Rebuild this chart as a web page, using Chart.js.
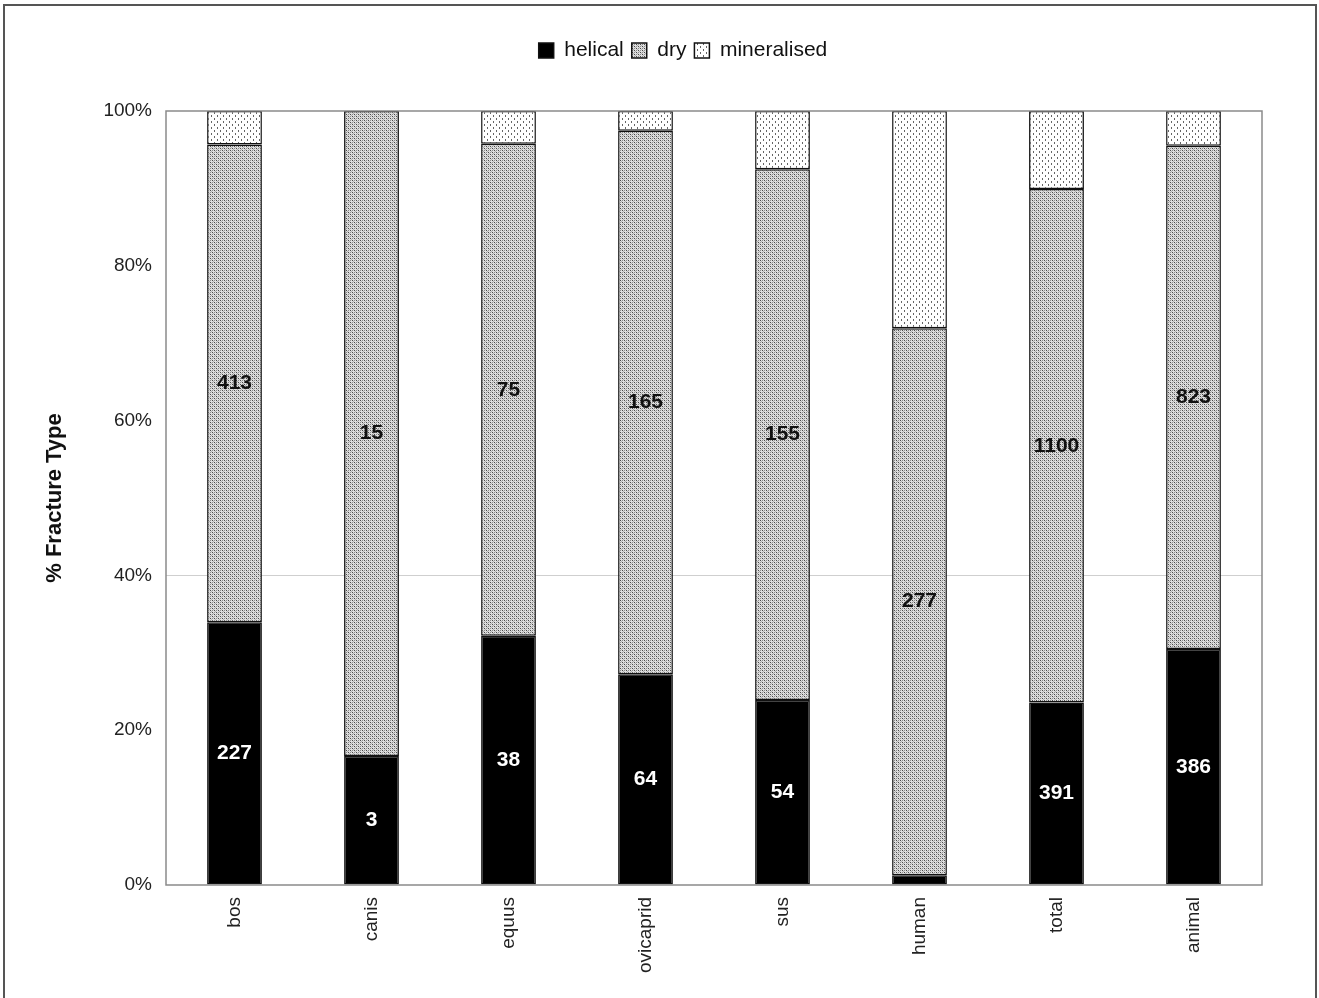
<!DOCTYPE html>
<html>
<head>
<meta charset="utf-8">
<script src="https://cdn.jsdelivr.net/npm/chart.js@4/dist/chart.umd.min.js"></script>
<style>
  html, body { margin: 0; padding: 0; background: #fff; }
  #wrap { width: 1319px; height: 998px; }
</style>
</head>
<body>
<div id="wrap"><canvas id="fractures" width="1319" height="998"></canvas></div>
<script>
// fragment counts per taxon, by fracture type
const categories = ['bos', 'canis', 'equus', 'ovicaprid', 'sus', 'human', 'total', 'animal'];
const helical = [227, 3, 38, 64, 54, 5, 391, 386];
const dry = [413, 15, 75, 165, 155, 277, 1100, 823];
const mineralised = [29, 0, 5, 6, 17, 110, 167, 57];
const yTicks = [0, 20, 40, 60, 80, 100];

const totals = categories.map((_, i) => helical[i] + dry[i] + mineralised[i]);
const pct = arr => arr.map((v, i) => v / totals[i] * 100);

function makePattern(size, draw) {
  const c = document.createElement('canvas');
  c.width = size; c.height = size;
  const g = c.getContext('2d');
  draw(g);
  return g.createPattern(c, 'repeat');
}

// dense grey mesh for dry breaks
const dryFill = makePattern(4, g => {
  g.fillStyle = '#dedede'; g.fillRect(0, 0, 4, 4);
  g.fillStyle = '#4a4a4a'; g.fillRect(0, 0, 1, 1); g.fillRect(2, 2, 1, 1);
  g.fillStyle = '#8c8c8c'; g.fillRect(2, 0, 1, 1); g.fillRect(0, 2, 1, 1);
  g.fillStyle = '#b0b0b0'; g.fillRect(1, 1, 1, 1); g.fillRect(3, 3, 1, 1);
});

// sparse dots for mineralised breaks
const minFill = makePattern(6, g => {
  g.fillStyle = '#fff'; g.fillRect(0, 0, 6, 6);
  g.fillStyle = '#666'; g.fillRect(1, 1, 1, 2); g.fillRect(4, 4, 1, 2);
});

// extra room under the legend row, and nudge the row to the right
const legendGap = {
  id: 'legendGap',
  beforeInit(chart) {
    const lg = chart.legend;
    if (!lg) return;
    const fit = lg.fit;
    lg.fit = function () {
      fit.call(this);
      this.height += 40;
    };
  },
  afterLayout(chart) {
    const lg = chart.legend;
    if (!lg) return;
    lg.left += 52;
    lg.right += 52;
  }
};

const frame = {
  id: 'frame',
  beforeDraw(chart) {
    const { ctx } = chart;
    ctx.save();
    ctx.fillStyle = '#fff';
    ctx.fillRect(0, 0, chart.width, chart.height);
    ctx.restore();
  },
  afterDraw(chart) {
    const { ctx, chartArea: a } = chart;
    ctx.save();
    ctx.strokeStyle = '#8a8a8a';
    ctx.lineWidth = 1.5;
    ctx.strokeRect(a.left, a.top, a.right - a.left, a.bottom - a.top);
    ctx.strokeStyle = '#555';
    ctx.lineWidth = 2;
    ctx.strokeRect(4, 5, 1312, 1010);
    ctx.restore();
  }
};

const countLabels = {
  id: 'countLabels',
  afterDatasetsDraw(chart) {
    const { ctx } = chart;
    ctx.save();
    ctx.font = 'bold 21px "Liberation Sans", Arial, sans-serif';
    ctx.textAlign = 'center';
    ctx.textBaseline = 'middle';
    [[0, helical, '#fff'], [1, dry, '#111']].forEach(([di, counts, color]) => {
      chart.getDatasetMeta(di).data.forEach((bar, i) => {
        const { x, y, base } = bar.getProps(['x', 'y', 'base'], true);
        if (Math.abs(base - y) < 25) return;
        ctx.fillStyle = color;
        ctx.fillText(String(counts[i]), x, (y + base) / 2);
      });
    });
    ctx.restore();
  }
};

const barStyle = { borderColor: '#111', borderWidth: 1.5, borderSkipped: false, barPercentage: 0.4, categoryPercentage: 1 };

new Chart(document.getElementById('fractures'), {
  type: 'bar',
  data: {
    labels: categories,
    datasets: [
      { label: 'helical', data: pct(helical), backgroundColor: '#000', ...barStyle },
      { label: 'dry', data: pct(dry), backgroundColor: dryFill, ...barStyle },
      { label: 'mineralised', data: pct(mineralised), backgroundColor: minFill, ...barStyle }
    ]
  },
  options: {
    responsive: false,
    animation: false,
    layout: { padding: { left: 0, right: 57, top: 32, bottom: 0 } },
    plugins: {
      tooltip: { enabled: false },
      legend: {
        position: 'top',
        labels: {
          color: '#111',
          font: { family: '"Liberation Sans", Arial, sans-serif', size: 21 },
          boxWidth: 15,
          boxHeight: 15,
          padding: 8
        }
      }
    },
    scales: {
      x: {
        stacked: true,
        grid: { display: false, drawTicks: false },
        border: { display: false },
        ticks: {
          color: '#222',
          font: { family: '"Liberation Sans", Arial, sans-serif', size: 19 },
          maxRotation: 90,
          minRotation: 90,
          padding: 12
        },
        afterFit: s => { s.height = 998 - 885; }
      },
      y: {
        stacked: true,
        min: 0,
        max: 100,
        afterBuildTicks: s => { s.ticks = yTicks.map(v => ({ value: v })); },
        grid: {
          drawTicks: false,
          color: c => (c.tick && c.tick.value === 40 ? '#cfcfcf' : 'rgba(0,0,0,0)')
        },
        border: { display: false },
        ticks: {
          color: '#222',
          font: { family: '"Liberation Sans", Arial, sans-serif', size: 19 },
          padding: 14,
          callback: v => v + '%'
        },
        title: {
          display: true,
          text: '% Fracture Type',
          color: '#111',
          font: { family: '"Liberation Sans", Arial, sans-serif', size: 22, weight: 'bold' },
          padding: { top: 42 }
        },
        afterFit: s => { s.width = 166; }
      }
    }
  },
  plugins: [legendGap, frame, countLabels]
});
</script>
</body>
</html>
